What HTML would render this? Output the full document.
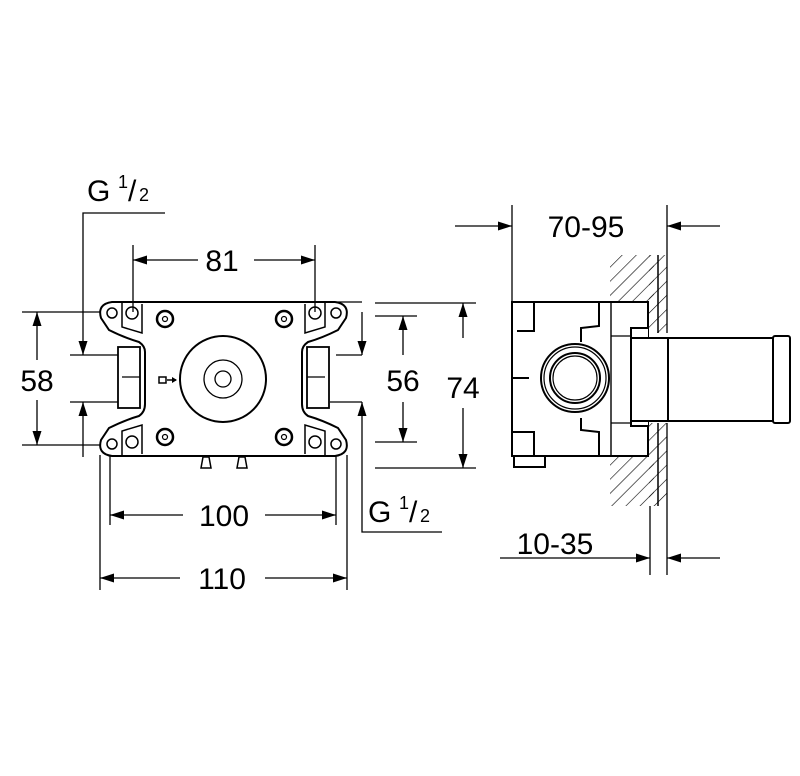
<!DOCTYPE html>
<html><head><style>html,body{margin:0;padding:0;background:#fff}svg{display:block}</style></head>
<body>
<svg width="800" height="776" viewBox="0 0 800 776" xmlns="http://www.w3.org/2000/svg" font-family="Liberation Sans, sans-serif">
<defs>
<pattern id="h" width="10" height="10" patternUnits="userSpaceOnUse" patternTransform="rotate(45)"><line x1="0" y1="0" x2="0" y2="10" stroke="#000" stroke-width="1.2"/></pattern>
</defs>
<g stroke="#000" fill="none" stroke-width="1.3">
<line x1="133" y1="245" x2="133" y2="312"/><line x1="315" y1="245" x2="315" y2="312"/>
<line x1="198" y1="260" x2="133" y2="260"/><line x1="254" y1="260" x2="315" y2="260"/>
<polyline points="165,213 83,213 83,355"/>
<line x1="83" y1="457" x2="83" y2="402"/>
<line x1="70" y1="355" x2="118" y2="355"/><line x1="70" y1="402" x2="118" y2="402"/>
<line x1="22" y1="312" x2="100" y2="312"/><line x1="22" y1="445" x2="100" y2="445"/>
<line x1="37" y1="360" x2="37" y2="312"/><line x1="37" y1="400" x2="37" y2="445"/>
<line x1="336" y1="355" x2="362" y2="355"/><line x1="362" y1="312" x2="362" y2="355"/>
<line x1="330" y1="402" x2="362" y2="402"/><polyline points="442,532 362,532 362,402"/>
<line x1="336" y1="302" x2="362" y2="302"/>
<line x1="375" y1="316" x2="417" y2="316"/><line x1="375" y1="442" x2="417" y2="442"/>
<line x1="403" y1="355" x2="403" y2="316"/><line x1="403" y1="402" x2="403" y2="442"/>
<line x1="375" y1="303" x2="476" y2="303"/><line x1="375" y1="468" x2="476" y2="468"/>
<line x1="463" y1="338" x2="463" y2="303"/><line x1="463" y1="408" x2="463" y2="468"/>
<line x1="110" y1="455" x2="110" y2="525"/><line x1="336" y1="455" x2="336" y2="525"/>
<line x1="100" y1="455" x2="100" y2="590"/><line x1="347" y1="455" x2="347" y2="590"/>
<line x1="183" y1="515" x2="110" y2="515"/><line x1="265" y1="515" x2="336" y2="515"/>
<line x1="180" y1="578" x2="100" y2="578"/><line x1="265" y1="578" x2="347" y2="578"/>
</g>
<g fill="#000">
<polygon points="133,260 147,255.5 147,264.5"/><polygon points="315,260 301,255.5 301,264.5"/>
<polygon points="83,355 78.5,341 87.5,341"/><polygon points="83,402 78.5,416 87.5,416"/>
<polygon points="37,312 32.5,326 41.5,326"/><polygon points="37,445 32.5,431 41.5,431"/>
<polygon points="362,355 357.5,341 366.5,341"/><polygon points="362,402 357.5,416 366.5,416"/>
<polygon points="403,316 398.5,330 407.5,330"/><polygon points="403,442 398.5,428 407.5,428"/>
<polygon points="463,303 458.5,317 467.5,317"/><polygon points="463,468 458.5,454 467.5,454"/>
<polygon points="110,515 124,510.5 124,519.5"/><polygon points="336,515 322,510.5 322,519.5"/>
<polygon points="100,578 114,573.5 114,582.5"/><polygon points="347,578 333,573.5 333,582.5"/>
<polygon points="512,226 498,221.5 498,230.5"/><polygon points="667,226 681,221.5 681,230.5"/>
<polygon points="650,558 636,553.5 636,562.5"/><polygon points="667,558 681,553.5 681,562.5"/>
</g>
<g stroke="#000" fill="none" stroke-width="2">
<path d="M112,302 H335 Q350,304 346,318 L338,330 Q322,338 308,342 Q302,346 302,352 V404 Q302,412 308,416 Q322,420 338,428 L346,440 Q350,454 335,456 H112 Q97,454 101,440 L109,428 Q125,420 139,416 Q145,412 145,404 V352 Q145,346 139,342 Q125,338 109,330 L101,318 Q97,304 112,302Z"/>
<path d="M122,303 V327 L142,333 V304" stroke-width="1.5"/><path d="M325,303 V327 L305,333 V304" stroke-width="1.5"/>
<path d="M122,455 V431 L142,425 V454" stroke-width="1.5"/><path d="M325,455 V431 L305,425 V454" stroke-width="1.5"/>
<rect x="118" y="347" width="22" height="61" stroke-width="1.8"/><line x1="122" y1="377" x2="140" y2="377" stroke-width="1.2"/>
<rect x="307" y="347" width="22" height="61" stroke-width="1.8"/><line x1="307" y1="377" x2="325" y2="377" stroke-width="1.2"/>
<circle cx="223" cy="379" r="43"/>
<circle cx="223" cy="379" r="19" stroke-width="1.3"/><circle cx="223" cy="379" r="8" stroke-width="1.3"/>
<g stroke-width="1.5">
<circle cx="112" cy="313" r="5"/><circle cx="132" cy="313" r="6"/><circle cx="315" cy="313" r="6"/><circle cx="336" cy="313" r="5"/>
<circle cx="112" cy="444" r="5"/><circle cx="132" cy="442" r="6"/><circle cx="315" cy="442" r="6"/><circle cx="336" cy="444" r="5"/>
</g>
<g stroke-width="2.5"><circle cx="165" cy="319" r="8"/><circle cx="284" cy="319" r="8"/><circle cx="165" cy="437" r="8"/><circle cx="284" cy="437" r="8"/></g>
<g stroke-width="1.2"><circle cx="165" cy="319" r="2.5"/><circle cx="284" cy="319" r="2.5"/><circle cx="165" cy="437" r="2.5"/><circle cx="284" cy="437" r="2.5"/></g>
<path d="M201,468 L203,457 H209 L211,468Z M237,468 L239,457 H245 L247,468Z" stroke-width="1.5"/>
<path d="M159,377 H166 V383 H159Z M167,380 H176" stroke-width="1.5"/>
</g>
<path d="M172,377 L177,380 L172,383Z" fill="#000"/>
<g stroke="#000" fill="none">
<rect x="610" y="255" width="44" height="47" fill="url(#h)" stroke="none"/>
<rect x="610" y="456" width="44" height="50" fill="url(#h)" stroke="none"/>
<rect x="649" y="255" width="18" height="78" fill="url(#h)" stroke="none"/>
<rect x="649" y="423" width="18" height="83" fill="url(#h)" stroke="none"/>
<g stroke-width="2">
<rect x="512" y="302" width="136" height="154" fill="#fff"/>
<path d="M512,302 H534 V331 H517 M512,432 H534 V456 M514,456 V467 H545 V456"/>
<path d="M599,303 V326 L581,328 V342 M599,455 V432 L581,430 V418"/>
<line x1="512" y1="378" x2="529" y2="378"/>
<line x1="611" y1="303" x2="611" y2="455" stroke-width="1.4"/>
<path d="M648,328 H631 V426 H648" fill="#fff"/>
<rect x="631" y="338" width="148" height="83" fill="#fff"/>
<line x1="668" y1="338" x2="668" y2="421"/>
<rect x="773" y="336" width="17" height="87" rx="2" fill="#fff"/>
<circle cx="575" cy="378" r="34"/>
<circle cx="575" cy="378" r="25"/>
<line x1="658" y1="255" x2="658" y2="333" stroke-width="1.5"/><line x1="658" y1="423" x2="658" y2="506" stroke-width="1.5"/>
</g>
<circle cx="575" cy="378" r="31" stroke-width="1.2"/><circle cx="575" cy="378" r="22" stroke-width="1.2"/>
<line x1="611" y1="336" x2="631" y2="336" stroke-width="1.2"/><line x1="611" y1="423" x2="631" y2="423" stroke-width="1.2"/>
<g stroke-width="1.3">
<line x1="512" y1="205" x2="512" y2="302"/><line x1="667" y1="205" x2="667" y2="333"/><line x1="667" y1="423" x2="667" y2="575"/>
<line x1="650" y1="506" x2="650" y2="575"/>
<line x1="455" y1="226" x2="512" y2="226"/><line x1="720" y1="226" x2="667" y2="226"/>
<line x1="500" y1="558" x2="650" y2="558"/><line x1="720" y1="558" x2="667" y2="558"/>
</g>
</g>
<g fill="#000" font-size="30">
<text x="222" y="271" text-anchor="middle">81</text>
<text x="37" y="391" text-anchor="middle">58</text>
<text x="403" y="391" text-anchor="middle">56</text>
<text x="463" y="398" text-anchor="middle">74</text>
<text x="224" y="526" text-anchor="middle">100</text>
<text x="222" y="589" text-anchor="middle">110</text>
<text x="586" y="237" text-anchor="middle">70-95</text>
<text x="555" y="554" text-anchor="middle">10-35</text>
<text x="87" y="201">G</text><text x="118" y="188" font-size="18">1</text><text x="128" y="201">/</text><text x="139" y="201" font-size="18">2</text>
<text x="368" y="522">G</text><text x="399" y="509" font-size="18">1</text><text x="409" y="522">/</text><text x="420" y="522" font-size="18">2</text>
</g>
</svg>
</body></html>
